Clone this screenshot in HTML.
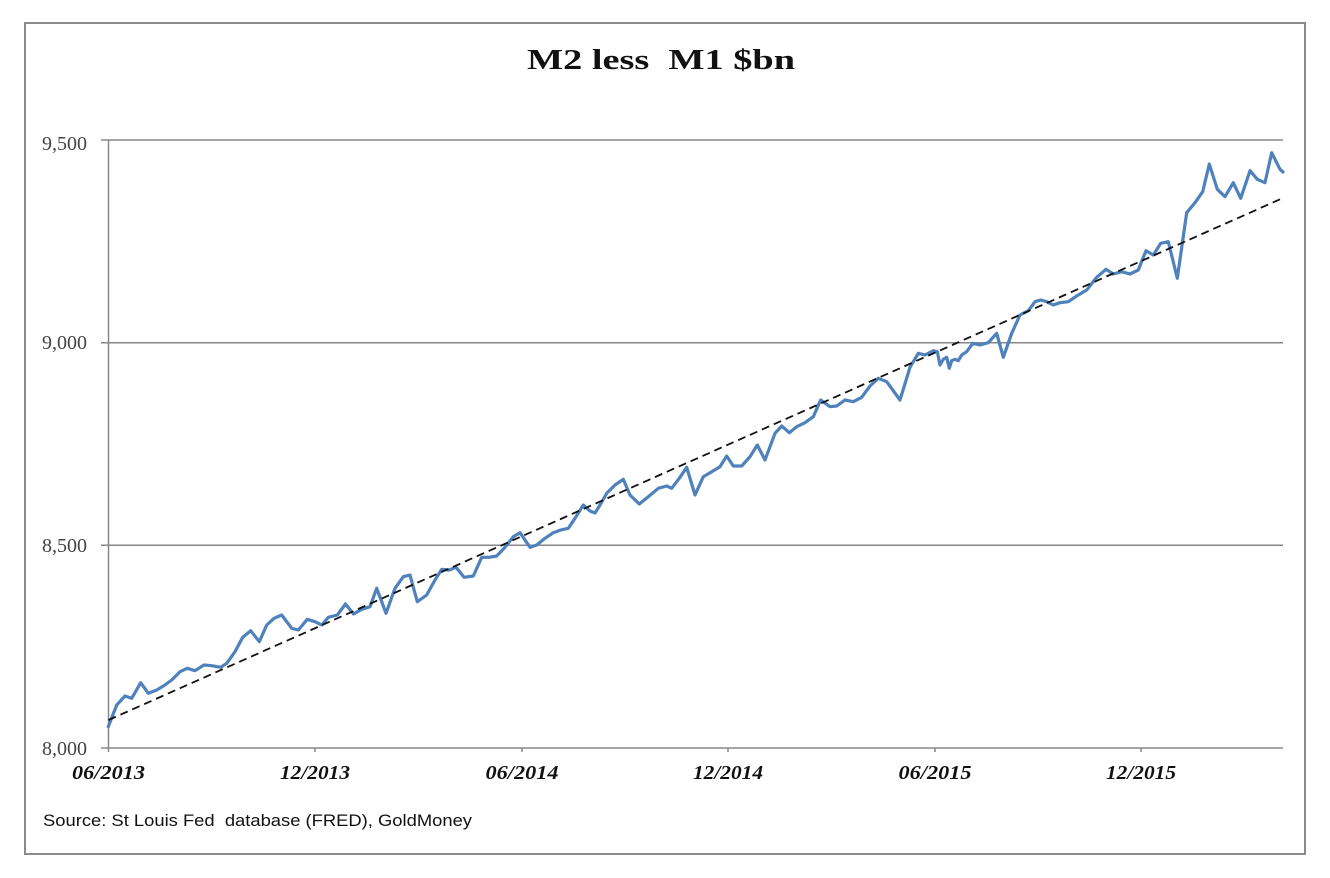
<!DOCTYPE html>
<html>
<head>
<meta charset="utf-8">
<style>
  html, body { margin:0; padding:0; background:#fff; }
  svg { display:block; }
</style>
</head>
<body>
<svg width="1330" height="878" viewBox="0 0 1330 878" xmlns="http://www.w3.org/2000/svg">
  <rect x="0" y="0" width="1330" height="878" fill="#fff"/>
  <!-- outer border -->
  <rect x="25" y="23" width="1280" height="831" fill="none" stroke="#8a8a8a" stroke-width="2"/>

  <!-- title -->
  <text x="661" y="69" text-anchor="middle" font-family="Liberation Serif, serif" font-weight="bold" font-size="28" fill="#111" textLength="268" lengthAdjust="spacingAndGlyphs" xml:space="preserve">M2 less  M1 $bn</text>

  <!-- gridlines -->
  <g stroke="#878787" stroke-width="1.5">
    <line x1="101" y1="140" x2="1283" y2="140"/>
    <line x1="101" y1="342.7" x2="1283" y2="342.7"/>
    <line x1="101" y1="545.3" x2="1283" y2="545.3"/>
    <line x1="101" y1="748" x2="1283" y2="748"/>
    <line x1="108.5" y1="140" x2="108.5" y2="752"/>
    <line x1="315" y1="748" x2="315" y2="752"/>
    <line x1="522" y1="748" x2="522" y2="752"/>
    <line x1="728" y1="748" x2="728" y2="752"/>
    <line x1="935" y1="748" x2="935" y2="752"/>
    <line x1="1141" y1="748" x2="1141" y2="752"/>
  </g>

  <!-- y labels -->
  <g font-family="Liberation Serif, serif" font-size="20" fill="#444" text-anchor="end">
    <text x="87" y="150">9,500</text>
    <text x="87" y="349">9,000</text>
    <text x="87" y="552">8,500</text>
    <text x="87" y="755">8,000</text>
  </g>

  <!-- x labels -->
  <g font-family="Liberation Serif, serif" font-size="20" font-weight="bold" font-style="italic" fill="#111" text-anchor="middle">
    <text x="108.5" y="779" textLength="73" lengthAdjust="spacingAndGlyphs">06/2013</text>
    <text x="315" y="779" textLength="70" lengthAdjust="spacingAndGlyphs">12/2013</text>
    <text x="522" y="779" textLength="73" lengthAdjust="spacingAndGlyphs">06/2014</text>
    <text x="728" y="779" textLength="70" lengthAdjust="spacingAndGlyphs">12/2014</text>
    <text x="935" y="779" textLength="73" lengthAdjust="spacingAndGlyphs">06/2015</text>
    <text x="1141" y="779" textLength="70" lengthAdjust="spacingAndGlyphs">12/2015</text>
  </g>

  <!-- data line -->
  <polyline fill="none" stroke="#4f81bd" stroke-width="3.2" stroke-linejoin="round" stroke-linecap="round" points="
108.3,726.7 116.7,705 125,696 131.7,698.3 140.7,682.7 148.3,693.3 156.7,690 165,685 171.7,680 180,671.7
187.3,668.3 195,670.7 204,665 211.7,665.7 220.7,667.3 226.7,663.3 235,651.7 242.7,637.3 250.7,630.7 259.3,641.7
266.7,625 274,618.3 281.7,615 291.7,628.3 298.3,630 307.3,619.3 315,621.7 321.7,625 328.3,617.3 337.3,615
345.5,604 353.5,614 361.7,609.3 370,606.7 376.7,588.3 386,613.3 395,588.3 403.3,576.7 410,575 417.3,601.7
426.7,595 434,581.7 441.7,569.3 449.3,570 456,567.3 464,577.3 473.3,576 481.7,557.3 489.3,557.3 496.7,556
505,547.3 513.3,536.7 520,532.7 530,547.3 536.7,545 545,538.3 553.3,532.7 560.7,530 568.3,528.3 575,518.3
583.3,505 590,511 595,513 600,505 606.7,493.3 615,485 623.3,479.3 630,495 639.3,504 648.3,496.7
658.3,488.3 666.7,486 671.7,488.3 679.3,478.3 686.7,467.3 695,495 703.3,476.7 711.7,471.7 720,466.7 726.7,456
733.3,466 741.7,466 750,456.7 757.3,445 765,460 775,433.3 781.7,426 789.3,432.7 796.7,426.7 805,422.7
813.3,416.7 820.7,400 830,406.7 836.7,406 845,400 853.3,401.7 861.7,397.3 870,386 878.3,378.3 886.7,381.7
900,400 910,367.3 918.3,353.3 925,355 933.3,350.7 937.3,351.7 940,365 943.3,359.3 946.7,357.3 949.3,368.3
951.7,360.7 955,359.3 958.3,360.7 961.7,355 966.7,351.7 972.7,343.3 980,345 988.3,342.7 996.7,333.3 1003.3,357.3
1011.7,333.3 1020,315 1028.3,310.7 1035,301.7 1040.7,300 1046.7,301.7 1053.3,305 1060,302.7 1068.3,301.7 1076.7,296
1086.7,290 1096.7,277.3 1106,269.3 1113.3,274 1121.7,271.7 1130,274 1138.3,270 1146,250.7 1153.3,255 1160.7,243.3
1168.3,241.7 1177.3,278.3 1186.7,212.7 1195,202.7 1202.7,191.7 1209.3,164 1217.3,189.3 1225,196.7 1233.3,182.7 1240.7,198.3
1250,170.7 1257.3,179.3 1265,182.7 1271.7,152.7 1280,169.3 1283,172"/>

  <!-- trend line -->
  <line x1="108.5" y1="720" x2="1283" y2="198" stroke="#111" stroke-width="1.8" stroke-dasharray="8,5"/>

  <!-- source -->
  <text x="43" y="826" font-family="Liberation Sans, sans-serif" font-size="17" fill="#111" textLength="429" lengthAdjust="spacingAndGlyphs" xml:space="preserve">Source: St Louis Fed  database (FRED), GoldMoney</text>
</svg>
</body>
</html>
